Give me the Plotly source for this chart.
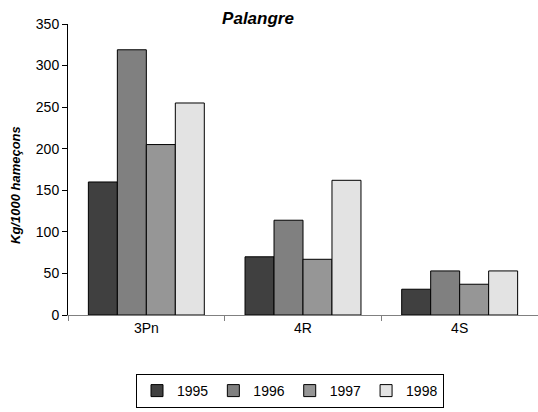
import plotly.graph_objects as go

# Catch per unit effort by zone and year
zones = ["3Pn", "4R", "4S"]
years = ["1995", "1996", "1997", "1998"]
cpue_1995 = [160, 70, 31]
cpue_1996 = [319, 114, 53]
cpue_1997 = [205, 67, 37]
cpue_1998 = [255, 162, 53]
series = [cpue_1995, cpue_1996, cpue_1997, cpue_1998]
colors = ["#404040", "#808080", "#969696", "#e3e3e3"]

fig = go.Figure()
for year, vals, col in zip(years, series, colors):
    fig.add_trace(go.Bar(
        x=zones, y=vals, name=year,
        marker=dict(color=col, line=dict(color="#000000", width=1)),
    ))

font_family = "Liberation Sans, Arial, sans-serif"
fig.update_layout(
    width=538, height=412,
    margin=dict(l=68, r=0, t=24, b=97, autoexpand=False),
    paper_bgcolor="white", plot_bgcolor="white",
    barmode="group", bargap=0.26, bargroupgap=0,
    font=dict(family=font_family, size=14, color="#000000"),
    title=dict(text="<b><i>Palangre</i></b>", x=258 / 538, xanchor="center",
               y=1 - 18 / 412, yanchor="middle", font=dict(size=17)),
    showlegend=True,
    legend=dict(orientation="h", x=(290 - 68) / 470, xanchor="center",
                y=(315 - 374) / 291, yanchor="top",
                bordercolor="#000000", borderwidth=1, itemwidth=30,
                font=dict(size=14), tracegroupgap=0, traceorder="normal"),
    yaxis=dict(range=[0, 350], dtick=50, showgrid=False, zeroline=False,
               showline=True, linecolor="#000000", linewidth=1,
               ticks="outside", ticklen=5, tickcolor="#000000"),
    xaxis=dict(showgrid=False, showline=True, linecolor="#808080", linewidth=1,
               ticks="outside", ticklen=5, tickcolor="#808080", tickson="boundaries"),
)

# Y-axis caption
fig.add_annotation(
    text="<b><i>Kg/1000 hameçons</i></b>", textangle=-90,
    xref="paper", yref="paper", x=-53 / 470, y=(315 - 185) / 291,
    xanchor="center", yanchor="middle", showarrow=False,
    font=dict(size=13),
)

fig.write_html("out.html")
